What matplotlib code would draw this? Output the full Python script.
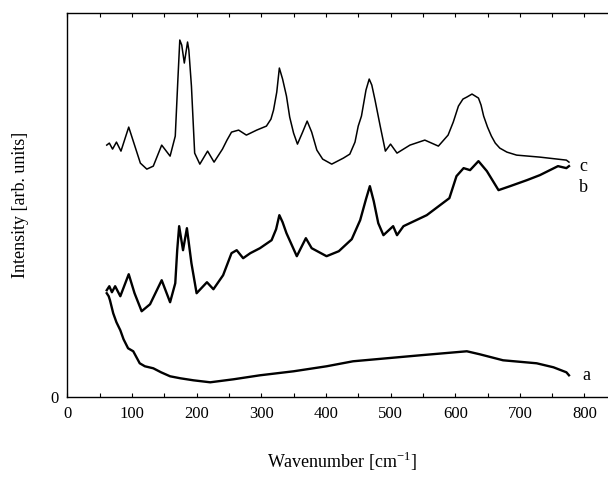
import numpy as np
import matplotlib.pyplot as plt
from matplotlib.ticker import MultipleLocator

plt.rcParams["font.family"] = ["Liberation Serif", "DejaVu Serif"]

# ── Spectra (wavenumber in cm^-1, intensity in arbitrary units) ───────────────
wn_a = [61, 64, 66, 71, 76, 82, 87, 94, 102, 112, 120, 133, 145, 159, 175,
        195, 221, 257, 298, 350, 401, 442, 494, 546, 618, 638, 674, 726,
        752, 772, 776]
int_a = [104, 101, 97, 84, 75, 67, 58, 49, 46, 34, 31, 29, 25, 21, 19,
         17, 15, 18, 22, 26, 31, 36, 39, 42, 46, 43, 37, 34,
         30, 25, 22]

wn_b = [61, 65, 69, 74, 82, 95, 104, 115, 128, 146, 159, 167, 170, 173,
        179, 185, 192, 200, 216, 226, 241, 254, 262, 272, 283, 298, 316,
        323, 328, 333, 339, 355, 369, 378, 401, 420, 440, 453, 462, 468,
        474, 481, 489, 504, 510, 520, 556, 591, 602, 613, 623, 636, 649,
        667, 685, 711, 731, 759, 772, 776]
int_b = [107, 111, 105, 111, 101, 123, 104, 86, 93, 117, 95, 114, 147, 171,
         147, 169, 134, 104, 115, 108, 122, 144, 147, 139, 144, 149, 157,
         168, 182, 175, 164, 141, 159, 149, 141, 146, 158, 177, 198, 211,
         196, 174, 162, 171, 162, 171, 182, 199, 221, 229, 227, 236, 226,
         207, 211, 217, 222, 231, 229, 231]

wn_c = [61, 65, 70, 76, 83, 95, 104, 113, 123, 133, 146, 159, 167, 171,
        174, 177, 181, 186, 188, 192, 197, 205, 217, 227, 240, 247, 254,
        265, 277, 293, 308, 315, 319, 324, 328, 333, 339, 344, 350, 356,
        364, 371, 378, 386, 395, 409, 427, 437, 445, 450, 455, 462, 467,
        471, 476, 484, 492, 500, 510, 530, 553, 574, 589, 597, 605, 612,
        618, 626, 636, 640, 644, 650, 656, 662, 669, 680, 695, 731, 772,
        776]
int_c = [252, 254, 248, 255, 246, 270, 252, 234, 228, 231, 252, 241, 261, 317,
         357, 352, 334, 355, 347, 311, 244, 233, 246, 235, 248, 257, 265,
         267, 262, 267, 271, 278, 287, 305, 329, 318, 301, 280, 264, 253,
         265, 276, 265, 247, 238, 233, 239, 243, 255, 271, 281, 307, 318,
         312, 297, 271, 246, 253, 244, 252, 257, 251, 262, 275, 291, 298,
         300, 303, 299, 292, 281, 270, 261, 254, 249, 245, 242, 240, 237,
         235]

# trace names written at the right-hand ends
trace_names = ["c", "b", "a"]
name_pos = [(798, 231), (798, 210), (803, 22)]

# ── Figure ───────────────────────────────────────────────────────────────────
fig = plt.figure(figsize=(6.08, 4.78), dpi=100)
ax = fig.add_axes([0.1107, 0.1688, 0.9038, 0.804])

ax.plot(wn_a, int_a, color="black", lw=1.7)
ax.plot(wn_b, int_b, color="black", lw=1.7)
ax.plot(wn_c, int_c, color="black", lw=1.1)

for name, (x, y) in zip(trace_names, name_pos):
    ax.text(x, y, name, fontsize=13, ha="center", va="center")

ax.set_xlim(0, 850)
ax.set_ylim(0, 384)
ax.xaxis.set_major_locator(MultipleLocator(100))
ax.xaxis.set_minor_locator(MultipleLocator(50))
ax.set_xticks([0, 100, 200, 300, 400, 500, 600, 700, 800])
ax.set_yticks([0])
ax.tick_params(axis="x", which="both", direction="in", top=True,
               labelsize=12, length=3, width=0.8, pad=6)
ax.tick_params(axis="y", direction="in", length=0, labelsize=12, pad=6)

ax.set_xlabel("Wavenumber [cm$^{\\mathregular{-1}}$]", fontsize=13, labelpad=20)
ax.set_ylabel("Intensity [arb. units]", fontsize=13, labelpad=16)

for spine in ax.spines.values():
    spine.set_linewidth(1.0)

fig.savefig("out.png", dpi=100)
